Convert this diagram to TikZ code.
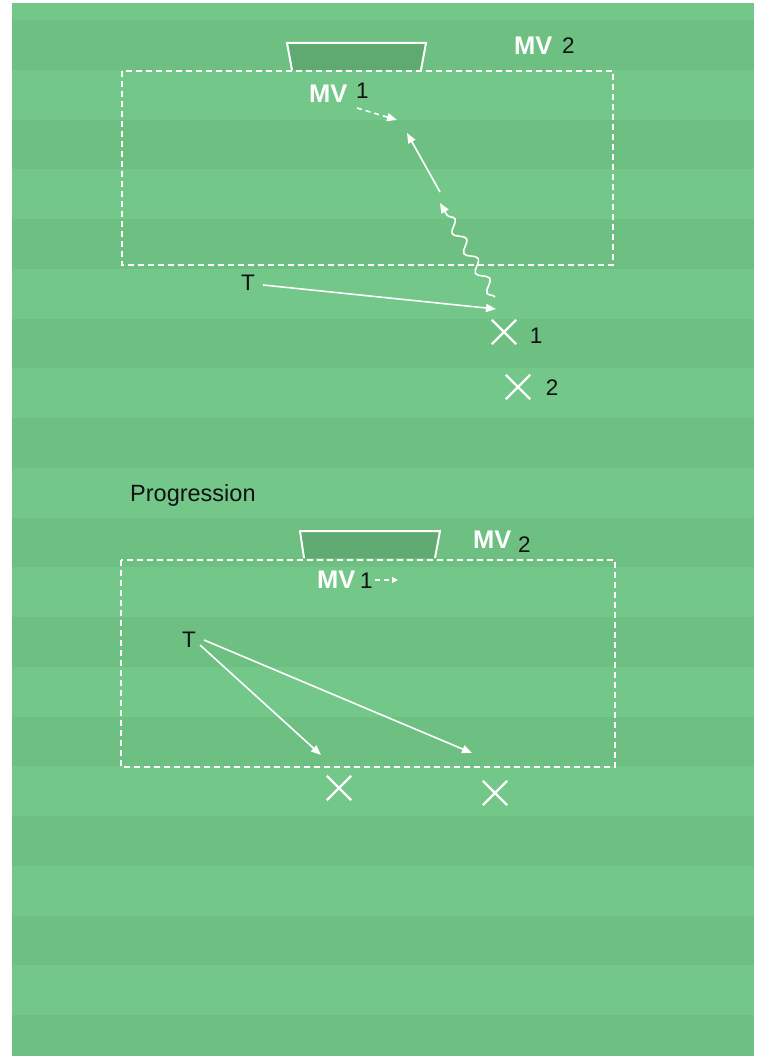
\documentclass[tikz,border=0pt]{standalone}
\usepackage{fontspec}
\setmainfont{Liberation Sans}
\usetikzlibrary{arrows.meta,decorations.pathmorphing,shapes.misc}
\definecolor{fieldlight}{RGB}{115,199,137}
\definecolor{fielddark}{RGB}{109,192,130}
\definecolor{goalfill}{RGB}{94,170,112}
\definecolor{txtblack}{RGB}{17,17,17}
\tikzset{
  mvtxt/.style={anchor=base west,inner sep=0pt,text=white,font=\fontsize{25.5}{30}\selectfont\bfseries},
  numtxt/.style={inner sep=0pt,text=txtblack,font=\fontsize{22.5}{27}\selectfont},
  player/.style={cross out,draw=white,line width=2.3pt,minimum size=22pt,inner sep=0pt},
  zone/.style={draw=white,line width=1.5pt,dash pattern=on 6pt off 4pt},
  arr/.style={draw=white,line width=1.6pt,-{Triangle[length=10pt,width=8pt]}},
  darr/.style={arr,dash pattern=on 5pt off 4pt},
  goalbox/.style={fill=goalfill},
  goalline/.style={draw=white,line width=2pt},
  wavy/.style={arr,decorate,decoration={snake,segment length=23pt,amplitude=5pt,post length=9pt}}
}
\begin{document}
\begin{tikzpicture}[x=1pt,y=-1pt]
\useasboundingbox (0,0) rectangle (762,1057);
\fill[white] (0,0) rectangle (762,1057);
% field with stripes
\fill[fieldlight] (12,3) rectangle (754,1055);
\begin{scope}
\clip (12,3) rectangle (754,1055);
\foreach \j in {0,...,10}{
  \fill[fielddark] (12,{20+99.5*\j}) rectangle (754,{69.75+99.5*\j});
}
\end{scope}

% ===== top drill =====
\fill[goalbox] (287,43) -- (426,43) -- (421,70) -- (292,70) -- cycle;
\draw[goalline] (292,70) -- (287,43) -- (426,43) -- (421,70);
\draw[zone] (122,71) rectangle (613,265);

\node[mvtxt] (mv2a) at (514,55) {MV};
\node[numtxt,anchor=base west] (n2a) at (562,53) {2};
\node[mvtxt] (mv1a) at (309,102) {MV};
\node[numtxt,anchor=base west] (n1a) at (356,98) {1};

\node[numtxt,anchor=base] (Ta) at (248,290) {T};
\node[player] (xa1) at (504,332) {};
\node[player] (xa2) at (518,387) {};
\node[numtxt,anchor=base] (la1) at (536,343) {1};
\node[numtxt,anchor=base] (la2) at (552,395) {2};

\coordinate (ta0) at (263,285);
\coordinate (ta1) at (496,309);
\coordinate (wa0) at (495,297);
\coordinate (wa1) at (440,203);
\coordinate (sa0) at (440,192);
\coordinate (sa1) at (407,133);
\coordinate (da0) at (357,108);
\coordinate (da1) at (397,120);

\draw[arr] (ta0) -- (ta1);
\draw[wavy] (wa0) -- (wa1);
\draw[arr] (sa0) -- (sa1);
\draw[darr] (da0) -- (da1);

% ===== progression =====
\node[numtxt,anchor=base west,font=\fontsize{23.5}{28}\selectfont] (prog) at (130,501) {Progression};

\fill[goalbox] (300,531) -- (440,531) -- (435,558) -- (304,558) -- cycle;
\draw[goalline] (304,558) -- (300,531) -- (440,531) -- (435,558);
\draw[zone] (121,560) rectangle (615,767);

\node[mvtxt] (mv2b) at (473,548) {MV};
\node[numtxt,anchor=base west] (n2b) at (518,552) {2};
\node[mvtxt] (mv1b) at (317,588) {MV};
\node[numtxt,anchor=base west] (n1b) at (360,588) {1};
\coordinate (db0) at (375,580);
\coordinate (db1) at (398,580);
\draw[draw=white,line width=1.6pt,dash pattern=on 5pt off 4pt,-{Triangle[length=6pt,width=6pt]}] (db0) -- (db1);

\node[numtxt,anchor=base] (Tb) at (189,647) {T};
\node[player] (xb1) at (339,788) {};
\node[player] (xb2) at (495,793) {};

\coordinate (pb0) at (200,645);
\coordinate (pb1) at (321,755);
\coordinate (qb0) at (204,640);
\coordinate (qb1) at (472,753);
\draw[arr] (pb0) -- (pb1);
\draw[arr] (qb0) -- (qb1);
\end{tikzpicture}
\end{document}
